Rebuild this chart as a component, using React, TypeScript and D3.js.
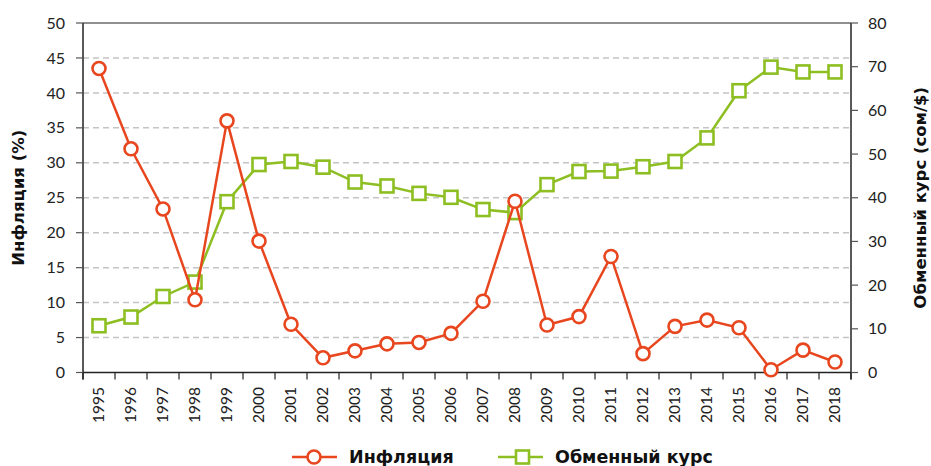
import React from "react";
import * as d3 from "d3";

const years: string[] = [
  "1995","1996","1997","1998","1999","2000","2001","2002","2003","2004","2005","2006",
  "2007","2008","2009","2010","2011","2012","2013","2014","2015","2016","2017","2018",
];
const inflation: number[] = [
  43.5, 32.0, 23.4, 10.4, 36.0, 18.8, 6.9, 2.1, 3.1, 4.1, 4.3, 5.6,
  10.2, 24.5, 6.8, 8.0, 16.6, 2.7, 6.6, 7.5, 6.4, 0.4, 3.2, 1.5,
];
const exchangeRate: number[] = [
  10.7, 12.7, 17.4, 20.7, 39.1, 47.6, 48.3, 47.0, 43.6, 42.7, 41.0, 40.1,
  37.3, 36.6, 43.0, 46.0, 46.1, 47.1, 48.3, 53.7, 64.5, 69.9, 68.8, 68.8,
];
const leftTicks: number[] = [0, 5, 10, 15, 20, 25, 30, 35, 40, 45, 50];
const rightTicks: number[] = [0, 10, 20, 30, 40, 50, 60, 70, 80];
const leftTitle = "Инфляция (%)";
const rightTitle = "Обменный курс (сом/$)";
const seriesNames = ["Инфляция", "Обменный курс"];

const RED = "#E8461E";
const GREEN = "#8DBE22";
const FONT = "Lato, 'Open Sans', sans-serif";
const BOLD_FONT = "'DejaVu Sans', sans-serif";

export default function App() {
  const W = 931, H = 466;
  const left = 83, right = 851, top = 23, bottom = 372.5;

  const x = d3.scaleBand<string>().domain(years).range([left, right]);
  const yL = d3.scaleLinear().domain([0, 50]).range([bottom, top]);
  const yR = d3.scaleLinear().domain([0, 80]).range([bottom, top]);
  const cx = (i: number) => (x(years[i]) ?? 0) + x.bandwidth() / 2;

  const lineInf = d3.line<number>().x((_, i) => cx(i)).y((d) => yL(d));
  const lineEx = d3.line<number>().x((_, i) => cx(i)).y((d) => yR(d));

  const tickXs = years.map((y) => x(y) ?? 0).concat([right]);

  return (
    <svg width={W} height={H} style={{ position: "absolute", left: 0, top: 0 }} fontFamily={FONT}>
      <rect x={0} y={0} width={W} height={H} fill="#fff" />
      {leftTicks.filter((t) => t > 0 && t < 50).map((t) => (
        <line key={"g" + t} x1={left} x2={right} y1={yL(t)} y2={yL(t)}
          stroke="#C4C4C4" strokeWidth={1.5} strokeDasharray="6 4" />
      ))}
      <line x1={left} x2={right} y1={top} y2={top} stroke="#222" strokeWidth={1.2} />
      <line x1={left} x2={left} y1={top} y2={bottom + 7} stroke="#222" strokeWidth={1.5} />
      {leftTicks.map((t) => (
        <g key={"l" + t}>
          <line x1={left - 7} x2={left} y1={yL(t)} y2={yL(t)} stroke="#555" strokeWidth={1.2} />
          <text x={65} y={yL(t)} dy="0.35em" textAnchor="end" fontSize={16} fill="#222">{t}</text>
        </g>
      ))}
      <line x1={right} x2={right} y1={top} y2={bottom + 7} stroke="#222" strokeWidth={1.5} />
      {rightTicks.map((t) => (
        <g key={"r" + t}>
          <line x1={right} x2={right + 7} y1={yR(t)} y2={yR(t)} stroke="#555" strokeWidth={1.2} />
          <text x={868} y={yR(t)} dy="0.35em" textAnchor="start" fontSize={16} fill="#222">{t}</text>
        </g>
      ))}
      <line x1={left} x2={right} y1={bottom} y2={bottom} stroke="#222" strokeWidth={1.5} />
      {tickXs.map((tx, i) => (
        <line key={"bt" + i} x1={tx} x2={tx} y1={bottom} y2={bottom + 7} stroke="#222" strokeWidth={1.2} />
      ))}
      {years.map((yr, i) => (
        <text key={"xl" + yr} transform={`translate(${cx(i) + 5},${387}) rotate(-90)`}
          textAnchor="end" fontSize={15.5} fill="#222">{yr}</text>
      ))}
      <text transform={`translate(24,${(top + bottom) / 2}) rotate(-90)`} textAnchor="middle"
        fontFamily={BOLD_FONT} fontSize={16.5} fontWeight="bold" fill="#111">{leftTitle}</text>
      <text transform={`translate(926,${(top + bottom) / 2}) rotate(-90)`} textAnchor="middle"
        fontFamily={BOLD_FONT} fontSize={16.5} fontWeight="bold" fill="#111">{rightTitle}</text>
      <path d={lineEx(exchangeRate) ?? ""} fill="none" stroke={GREEN} strokeWidth={2.5} />
      {exchangeRate.map((v, i) => (
        <rect key={"s" + i} x={cx(i) - 6.5} y={yR(v) - 6.5} width={13} height={13}
          fill="#fff" stroke={GREEN} strokeWidth={2.6} />
      ))}
      <path d={lineInf(inflation) ?? ""} fill="none" stroke={RED} strokeWidth={2.5} />
      {inflation.map((v, i) => (
        <circle key={"c" + i} cx={cx(i)} cy={yL(v)} r={6.5} fill="#fff" stroke={RED} strokeWidth={2.6} />
      ))}
      <g>
        <line x1={292} x2={337} y1={457} y2={457} stroke={RED} strokeWidth={2.5} />
        <circle cx={314} cy={457} r={6.5} fill="#fff" stroke={RED} strokeWidth={2.6} />
        <text x={349} y={457} dy="0.36em" fontFamily={BOLD_FONT} fontSize={17.5} fontWeight="bold" fill="#111">{seriesNames[0]}</text>
        <line x1={498} x2={543} y1={457} y2={457} stroke={GREEN} strokeWidth={2.5} />
        <rect x={516} y={450.5} width={13} height={13} fill="#fff" stroke={GREEN} strokeWidth={2.6} />
        <text x={555} y={457} dy="0.36em" fontFamily={BOLD_FONT} fontSize={17.5} fontWeight="bold" fill="#111">{seriesNames[1]}</text>
      </g>
    </svg>
  );
}
